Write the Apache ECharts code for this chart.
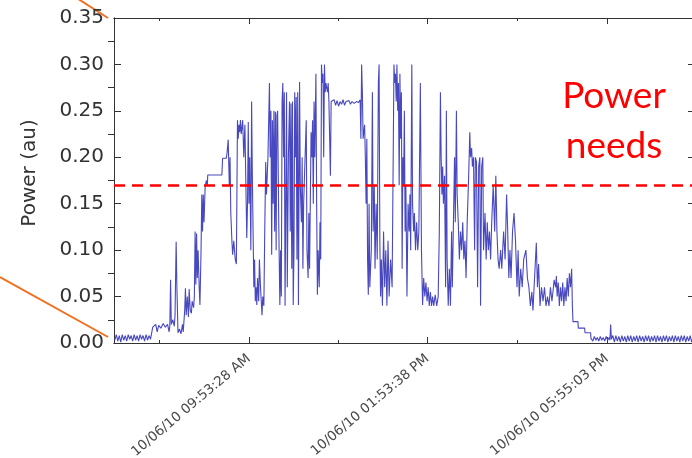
<!DOCTYPE html>
<html>
<head>
<meta charset="utf-8">
<script src="https://cdn.jsdelivr.net/npm/echarts@6/dist/echarts.min.js"></script>
<style>
html, body { margin: 0; padding: 0; background: #fff; }
#chart { width: 692px; height: 458px; }
</style>
</head>
<body>
<div id="chart"></div>
<script>
// samples: [minutes since midnight on 10/06/10, power (au)]
var powerSamples = [
  [413,.003],[415,.009],[417,.002],[419,.008],[421,.001],[423,.009],[425,.003],[427,.008],[429,.002],[431,.009],
  [433,.004],[435,.008],[437,.002],[439,.009],[441,.003],[443,.008],[445,.002],[447,.009],[449,.004],[451,.008],
  [453,.002],[455,.009],[457,.003],[459,.008],[461,.004],[463,.006],
  [464,.017],[468,.02],[470,.012],[472,.019],[475,.016],[478,.021],[481,.017],[484,.02],[486,.012],[487,.018],
  [488,.068],[489,.02],[491,.025],[493,.018],[494,.03],
  [495.5,.109],[496.5,.06],[498,.011],[500,.015],[502,.01],[504,.02],[505,.012],
  [507,.035],[508,.059],[509,.03],[510.5,.05],[512,.028],[513,.058],[514.5,.035],[516,.032],[517,.045],[519,.038],[520,.05],
  [521,.12],[522,.063],[523,.118],[524,.07],[525,.1],[526.5,.06],[527.5,.041],
  [529,.1],[530,.16],[531,.12],[532,.16],[533,.13],[534.5,.168],[536,.175],[537.5,.17],[538,.181],
  [557,.181],[558,.199],[563,.199],
  [564,.205],[565.5,.219],[567,.17],[568,.2],[569,.14],[570.5,.11],[571.5,.095],[573,.11],[575,.09],[576.5,.085],
  [578,.24],[579,.22],[580,.235],[581,.227],[582,.24],[583,.225],[585,.24],[586.5,.2],[588,.235],[589.5,.16],[590.5,.113],[591.5,.15],
  [592.5,.238],[593.5,.15],[594.5,.2],[596,.1],
  [597,.26],[598,.18],[599,.12],[600,.06],[601,.09],[602,.045],[603,.06],[604,.041],[605,.07],[606.5,.045],[607.5,.09],[609,.06],[611,.03],[612,.05],[613.5,.04],
  [614.5,.11],[616,.195],[617,.16],[619,.2],
  [621,.28],[622,.2],[623,.25],[624,.095],[625,.24],[626,.15],[627,.25],[628,.12],[629,.249],[630,.1],[631,.245],
  [632,.25],[633.5,.13],[635,.041],[636,.1],[637,.05],[638,.26],[639,.28],[640,.2],[641,.27],[642,.04],[643,.15],[644,.27],
  [645,.06],[646.5,.2],[648,.26],[649,.12],[650,.258],[651,.08],[652,.26],[653,.041],[654,.1],
  [655,.27],[656,.2],[657,.265],[658,.09],[659,.27],[660,.041],
  [661.5,.281],[662.5,.17],[664,.13],[665,.2],[666,.08],[667,.15],
  [670.5,.24],[671.5,.1],[673,.07],[674,.14],[675,.08],
  [677,.227],[678,.2],[679,.24],[680,.15],[681,.26],[682,.2],[683.5,.29],[684.5,.15],
  [685.5,.052],[686.5,.1],[688,.06],[689,.13],[690,.09],
  [691,.3],[692,.28],[693,.29],[694,.2],[695,.3],[696,.27],
  [697,.28],[699,.27],[700,.28],[701,.26],[703,.18],[704,.26],
  [706,.258],[708,.262],[710,.256],[712,.261],[714,.255],[716,.26],[718,.257],[720,.262],[722,.256],[724,.26],
  [726,.258],[728,.261],[730,.257],[732,.26],[735,.258],[738,.26],[741,.259],[743,.262],
  [744,.22],[745,.3],[746,.27],[747,.22],[749,.235],[750,.2],
  [751,.15],[752,.22],[753,.09],[754,.052],[755,.15],[756,.06],[758,.1],
  [759.5,.27],[760.5,.12],[762,.17],[763,.08],[764.5,.15],[766,.09],
  [767.5,.28],[768.5,.3],[769.5,.11],[770.5,.05],[771.5,.09],[773,.04],[774.5,.12],[776,.06],[777.5,.1],[779,.04],
  [780.5,.11],[782,.05],[784,.09],[786,.06],
  [788.5,.3],[789.5,.28],[790.5,.29],[791.5,.26],[792.5,.3],[793.5,.25],[794.5,.28],[795.5,.17],[796.5,.29],[797.5,.22],
  [798.5,.27],[799.5,.08],[800.5,.2],[801.5,.17],[802.5,.25],[803.5,.12],[804.5,.17],[806,.05],[807.5,.15],
  [809,.12],[810,.16],[811,.1],[812.5,.3],[813.5,.15],[815,.12],[816,.14],[817.5,.1],[819,.13],[820.5,.1],[822,.12],
  [824,.28],[825.5,.1],[827,.041],[828.5,.07],[830,.05],[831.5,.065],[833,.045],[834.5,.06],[836,.04],[837.5,.055],
  [839,.04],[840.5,.05],[842,.04],[844,.052],[846,.04],[848,.05],
  [849.5,.12],[851,.27],[852,.2],[853,.16],[854,.19],[855,.15],[856.5,.18],[858,.06],[859,.25],[860,.09],
  [861.5,.04],[863,.08],[864.5,.04],[866,.12],[867,.06],
  [870,.2],[871,.13],[872.5,.25],[873.5,.16],[875,.13],[876.5,.09],[878,.12],[879.5,.1],[881,.13],[882.5,.09],
  [884,.11],[885.5,.07],[887,.13],
  [889,.18],[890.5,.227],[891.5,.2],[893,.21],[894,.19],[895.5,.2],[897,.1],[898,.2],[899.5,.195],[901,.06],
  [902.5,.19],[904,.2],[905,.04],[906.5,.19],[908,.2],[909,.1],[911,.14],[912.5,.09],[914,.13],[915.5,.1],
  [917,.12],[918.5,.09],[920,.13],
  [922,.17],[924,.12],[925.5,.18],[927,.12],[928.5,.09],[930,.08],[932,.1],[933.5,.08],
  [936,.12],[938,.09],[940,.16],[941.5,.12],[943,.07],[944.5,.1],[946,.07],[948,.12],[950,.14],[952,.11],
  [954,.06],[955.5,.1],[957,.05],[959,.08],[961,.06],[963,.09],[966,.1],[968,.07],[970,.06],[972,.04],
  [974,.055],[975.5,.035],[977,.06],
  [980,.108],[981.5,.06],[983,.085],[985,.04],[987,.06],[989,.045],[991,.06],[993,.04],[995,.05],[997,.04],
  [999,.06],[1001,.045],[1003,.06],
  [1004,.068],[1005,.07],[1006,.06],[1007,.072],[1008,.05],[1009.5,.065],[1011,.04],[1012.5,.06],[1014,.045],[1015.5,.065],
  [1017,.04],[1018.5,.06],[1020,.045],[1021.5,.07],[1023,.05],[1024.5,.075],[1026,.06],[1027.5,.08],[1028.5,.04],[1029.3,.023],
  [1036,.023],[1036.5,.016],[1045,.016],[1045.5,.011],[1053,.011],[1053.5,.005],
  [1056,.002],[1058,.007],[1060,.003],[1062,.006],[1064,.002],[1066,.007],[1068,.003],[1070,.006],[1072,.002],[1074,.007],
  [1076,.003],[1078,.006],[1079,.003],[1080,.02],[1081,.004],[1083,.008],[1085,.001],[1087,.008],[1089,.002],[1091,.007],
  [1093,.001],[1095,.008],[1097,.002],[1099,.007],[1101,.001],[1103,.008],[1105,.002],[1107,.008],[1109,.001],[1111,.007],
  [1113,.002],[1115,.008],[1117,.001],[1119,.008],[1121,.002],[1123,.007],[1125,.001],[1127,.008],[1129,.002],[1131,.008],
  [1133,.001],[1135,.007],[1137,.002],[1139,.008],[1141,.001],[1143,.008],[1145,.002],[1147,.007],[1149,.001],[1151,.008],
  [1153,.002],[1155,.008],[1157,.001],[1159,.007],[1161,.002],[1163,.008],[1165,.001],[1167,.008],[1169,.002],[1171,.007],
  [1173,.001],[1175,.008],[1177,.002],[1179,.008],[1181,.001],[1183,.007],[1185,.002],[1187,.008],[1189,.001],[1191,.007]
];

var powerNeeds = 0.1712;

var xLabelTimes = [593.47, 833.63, 1075.05];
var xLabels = ['10/06/10 09:53:28 AM', '10/06/10 01:53:38 PM', '10/06/10 05:55:03 PM'];
var xMinorTimes = [472.4, 713.2, 954.0];

var yTicks = [0, 0.05, 0.10, 0.15, 0.20, 0.25, 0.30, 0.35];
var yMinorTicks = [0.025, 0.075, 0.125, 0.175, 0.225, 0.275, 0.325];

var chart = echarts.init(document.getElementById('chart'), null, { renderer: 'canvas' });

// axis with only ticks (no labels)
function tickAxis(pos, ticks, len, inside) {
  return {
    type: 'value',
    position: pos,
    min: 411.9,
    max: 1192.1,
    axisLine: { show: true, onZero: false, lineStyle: { color: '#333', width: 1 } },
    axisTick: { show: true, inside: inside, length: len, customValues: ticks, lineStyle: { color: '#333' } },
    axisLabel: { show: false },
    splitLine: { show: false }
  };
}

var xBottom = tickAxis('bottom', xLabelTimes, 6, true);
xBottom.axisLabel = {
  show: true,
  customValues: xLabelTimes,
  rotate: 40,
  margin: 14,
  fontSize: 13.5,
  color: '#4a4a4a',
  formatter: function (v) {
    for (var i = 0; i < xLabelTimes.length; i++) {
      if (Math.abs(xLabelTimes[i] - v) < 0.5) return xLabels[i];
    }
    return '';
  }
};

function yAx(pos, ticks, len, inside) {
  return {
    type: 'value',
    position: pos,
    min: 0,
    max: 0.35,
    axisLine: { show: true, lineStyle: { color: '#333', width: 1 } },
    axisTick: { show: true, inside: inside, length: len, customValues: ticks, lineStyle: { color: '#333' } },
    axisLabel: { show: false },
    splitLine: { show: false }
  };
}

var yLeft = yAx('left', yTicks, 7, true);
yLeft.axisLabel = {
  show: true,
  customValues: yTicks,
  margin: 10,
  fontSize: 20,
  color: '#333',
  formatter: function (v) { return v.toFixed(2); }
};
yLeft.name = 'Power (au)';
yLeft.nameLocation = 'middle';
yLeft.nameGap = 74;
yLeft.nameTextStyle = { fontSize: 20, color: '#333', padding: [0, 0, 0, 15] };

var option = {
  animation: false,
  backgroundColor: '#fff',
  textStyle: { fontFamily: 'DejaVu Sans' },
  grid: { left: 114, top: 18, right: -2, bottom: 115, containLabel: false, outerBoundsMode: 'none' },
  xAxis: [
    xBottom,
    tickAxis('bottom', xMinorTimes, 3, true),
    tickAxis('top', xLabelTimes, 6, true),
    tickAxis('top', xMinorTimes, 3, true)
  ],
  yAxis: [
    yLeft,
    yAx('left', yMinorTicks, 6, false),
    yAx('right', yTicks, 6, true)
  ],
  series: [{
    type: 'line',
    xAxisIndex: 0,
    yAxisIndex: 0,
    data: powerSamples,
    showSymbol: false,
    symbol: 'none',
    lineStyle: { color: '#4848c0', width: 1.1 },
    markLine: {
      silent: true,
      symbol: 'none',
      label: { show: false },
      lineStyle: { color: '#ff0000', type: [11, 7], width: 2.5 },
      data: [{ yAxis: powerNeeds }]
    }
  }],
  graphic: [
    {
      type: 'text',
      style: {
        text: 'Power\nneeds',
        x: 614,
        y: 121,
        textAlign: 'center',
        textVerticalAlign: 'middle',
        font: '37px Lato',
        lineHeight: 50,
        fill: '#ff0000'
      }
    },
    {
      type: 'line',
      shape: { x1: 72, y1: -5, x2: 108, y2: 18 },
      style: { stroke: '#f07020', lineWidth: 2 }
    },
    {
      type: 'line',
      shape: { x1: 0, y1: 277, x2: 108, y2: 337 },
      style: { stroke: '#f07020', lineWidth: 2 }
    }
  ]
};

chart.setOption(option);
</script>
</body>
</html>
